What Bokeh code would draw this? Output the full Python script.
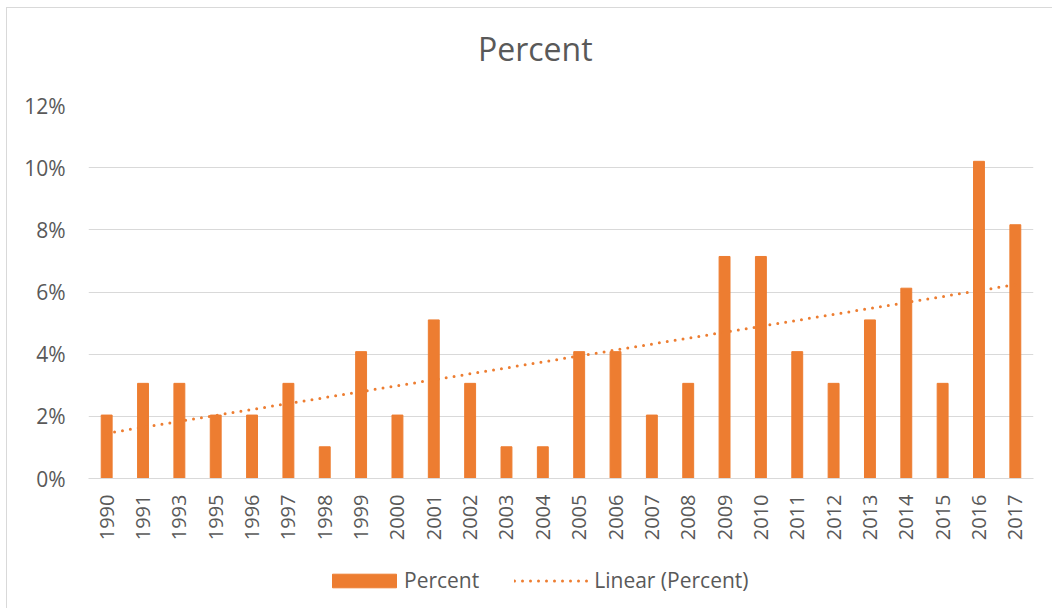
import numpy as np
from bokeh.plotting import figure
from bokeh.layouts import column
from bokeh.models import (Legend, LegendItem, NumeralTickFormatter, FixedTicker, Label,
                          Range1d)
from bokeh.embed import file_html
from bokeh.resources import INLINE

years = ["1990", "1991", "1993", "1995", "1996", "1997", "1998", "1999", "2000", "2001",
         "2002", "2003", "2004", "2005", "2006", "2007", "2008", "2009", "2010", "2011",
         "2012", "2013", "2014", "2015", "2016", "2017"]
counts = [2, 3, 3, 2, 2, 3, 1, 4, 2, 5, 3, 1, 1, 4, 4, 2, 3, 7, 7, 4, 3, 5, 6, 3, 10, 8]
percent = [c / sum(counts) for c in counts]
title_text = "Percent"
series_name = "Percent"
trend_name = "Linear (Percent)"

# linear trendline (least squares over category index)
idx = np.arange(1, len(years) + 1)
slope, intercept = np.polyfit(idx, percent, 1)
trend = list(slope * idx + intercept)

FONT = "Open Sans"
TXT = "#595959"
ORANGE = "#ed7d31"
GRID = "#d9d9d9"
W = 1045

# ---- title strip (pixel-like ranges) ----
TH = 77
p0 = figure(width=W, height=TH, x_range=Range1d(0, W), y_range=Range1d(0, TH),
            x_axis_type=None, y_axis_type=None, output_backend="svg", toolbar_location=None,
            min_border=0, outline_line_color=None)
p0.title = None
p0.add_layout(Label(x=494, y=37, text=title_text, text_align="center",
                    text_baseline="alphabetic", text_font=FONT, text_font_size="32px",
                    text_color=TXT))

# ---- main chart ----
p = figure(x_range=years, y_range=(0, 0.12), output_backend="svg", toolbar_location=None,
           frame_width=945, frame_height=373, min_border_left=81, min_border_right=19,
           min_border_top=20, min_border_bottom=70)
p.title = None

bars = p.vbar(x=years, top=percent, width=0.3, color=ORANGE)
line = p.line(x=years, y=trend, color=ORANGE, line_width=3, line_dash="0 8", line_cap="round")

p.outline_line_color = None
p.xgrid.grid_line_color = None
p.ygrid.grid_line_color = GRID
p.ygrid.grid_line_width = 1

p.yaxis.ticker = FixedTicker(ticks=[0, 0.02, 0.04, 0.06, 0.08, 0.10, 0.12])
p.yaxis.formatter = NumeralTickFormatter(format="0%")
p.yaxis.axis_line_color = None
p.yaxis.major_tick_line_color = None
p.yaxis.major_tick_out = 0
p.yaxis.minor_tick_line_color = None
p.yaxis.major_label_text_font = FONT
p.yaxis.major_label_text_font_size = "21px"
p.yaxis.major_label_text_color = TXT
p.yaxis.major_label_standoff = 23

p.xaxis.axis_line_color = GRID
p.xaxis.axis_line_width = 1
p.xaxis.major_tick_line_color = None
p.xaxis.major_tick_out = 0
p.xaxis.minor_tick_line_color = None
p.xaxis.major_label_orientation = np.pi / 2
p.xaxis.major_label_text_font = FONT
p.xaxis.major_label_text_font_size = "20px"
p.xaxis.major_label_text_color = TXT
p.xaxis.major_label_standoff = 16

# ---- legend strip (proxy renderers kept outside the visible range) ----
LH = 60
p2 = figure(width=W, height=LH, x_range=Range1d(0, 1), y_range=Range1d(0, 1),
            x_axis_type=None, y_axis_type=None, output_backend="svg", toolbar_location=None,
            min_border=0, outline_line_color=None)
p2.title = None
lb = p2.vbar(x=[-5], top=[-5], width=0.3, color=ORANGE)
ll = p2.line(x=[-6, -5], y=[-5, -5], color=ORANGE, line_width=3, line_dash="0 8",
             line_cap="round")
legend = Legend(items=[LegendItem(label=series_name, renderers=[lb]),
                       LegendItem(label=trend_name, renderers=[ll])],
                orientation="horizontal", location=(236, 14),
                glyph_width=80, glyph_height=17, label_text_font=FONT,
                label_text_font_size="21px", label_text_color=TXT,
                spacing=35, label_standoff=0, border_line_color=None,
                background_fill_alpha=0, margin=0, padding=0)
p2.add_layout(legend, "center")

layout = column(p0, p, p2, spacing=0)
layout.styles = {"margin-left": "6px", "margin-top": "7px",
                 "border-left": "1px solid #d9d9d9", "border-top": "1px solid #d9d9d9"}

open("out.html", "w").write(file_html(layout, INLINE))
